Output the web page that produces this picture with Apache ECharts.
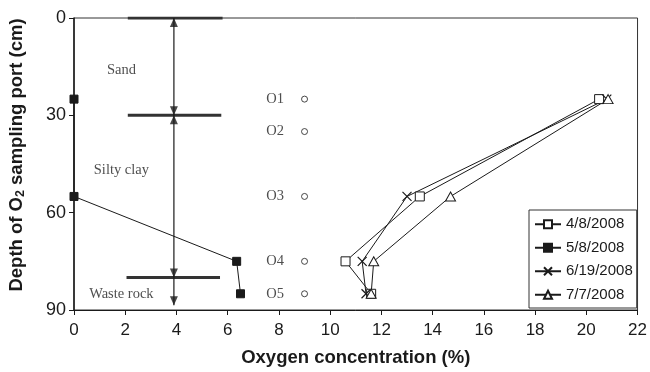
<!DOCTYPE html>
<html>
<head>
<meta charset="utf-8">
<script src="https://cdn.jsdelivr.net/npm/echarts@6/dist/echarts.min.js"></script>
<style>
  html, body { margin: 0; padding: 0; background: #fff; }
  #chart { width: 650px; height: 372px; }
</style>
</head>
<body>
<div id="chart"></div>
<script>
// Sampling port depths (cm) for the measured profiles
const depths = [25, 55, 75, 85];

// Oxygen concentration (%) at each depth, one array per sampling date
const dates = ['4/8/2008', '5/8/2008', '6/19/2008', '7/7/2008'];
const o2Apr08 = [20.5, 13.5, 10.6, 11.6];
const o2May08 = [0, 0, 6.35, 6.5];
const o2Jun19 = [20.8, 13.0, 11.25, 11.4];
const o2Jul07 = [20.85, 14.7, 11.7, 11.6];

// O2 sampling ports
const portNames = ['O1', 'O2', 'O3', 'O4', 'O5'];
const portDepths = [25, 35, 55, 75, 85];
const portX = 9;

// Cover layers: boundaries (cm) and names
const layerBounds = [0, 30, 80];
const layerBarFrom = [2.1, 2.1, 2.05];
const layerBarTo = [5.8, 5.75, 5.7];
const layerNames = ['Sand', 'Silty clay', 'Waste rock'];
const layerNameDepths = [16, 47, 85];
const layerNameX = 1.85;
const arrowX = 3.9;
const arrowBottom = 88.5;

// Axis ticks
const xTicks = { min: 0, max: 22, step: 2 };
const yTicks = { min: 0, max: 90, step: 30 };

const ink = '#1a1a1a';
const sansFont = '"Liberation Sans", Arial, sans-serif';
const serifFont = '"Liberation Serif", "Times New Roman", serif';

const pair = (xs) => xs.map((x, i) => [x, depths[i]]);

const lineBase = {
  type: 'line',
  lineStyle: { color: ink, width: 1 },
  z: 5
};

const series = [
  Object.assign({}, lineBase, {
    name: dates[0], data: pair(o2Apr08),
    symbol: 'rect', symbolSize: 9,
    itemStyle: { color: '#fff', borderColor: ink, borderWidth: 1 }
  }),
  Object.assign({}, lineBase, {
    name: dates[1], data: pair(o2May08),
    symbol: 'rect', symbolSize: 8,
    itemStyle: { color: ink, borderColor: ink, borderWidth: 1 }
  }),
  Object.assign({}, lineBase, {
    name: dates[2], data: pair(o2Jun19),
    symbol: 'path://M0,0L10,10M10,0L0,10', symbolSize: 9,
    itemStyle: { color: ink, borderColor: ink, borderWidth: 1.2 }
  }),
  Object.assign({}, lineBase, {
    name: dates[3], data: pair(o2Jul07),
    symbol: 'triangle', symbolSize: [10, 9],
    itemStyle: { color: '#fff', borderColor: ink, borderWidth: 1 }
  })
];

// Thick bars marking the layer boundaries
layerBounds.forEach((d, i) => {
  series.push({
    type: 'line', silent: true, symbol: 'none', z: 3,
    data: [[layerBarFrom[i], d], [layerBarTo[i], d]],
    lineStyle: { color: '#333', width: 3 }
  });
});

// Vertical thickness line
series.push({
  type: 'line', silent: true, symbol: 'none', z: 3,
  data: [[arrowX, 0], [arrowX, arrowBottom]],
  lineStyle: { color: ink, width: 1.2 }
});

// Arrowheads: up-pointing at layer tops, down-pointing at layer bottoms
const upTips = [0, 30];
const downTips = [30, 80, arrowBottom];
series.push({
  type: 'scatter', silent: true, z: 4,
  symbol: 'path://M5,0L10,10L0,10Z', symbolSize: [8, 9],
  symbolOffset: [0, 4.5],
  itemStyle: { color: ink },
  data: upTips.map(d => [arrowX, d])
});
series.push({
  type: 'scatter', silent: true, z: 4,
  symbol: 'path://M0,0L10,0L5,10Z', symbolSize: [8, 9],
  symbolOffset: [0, -4.5],
  itemStyle: { color: ink },
  data: downTips.map(d => [arrowX, d])
});

// Layer names
series.push({
  type: 'scatter', silent: true, z: 4,
  symbolSize: 0,
  data: layerNames.map((n, i) => ({ value: [layerNameX, layerNameDepths[i]], name: n })),
  label: {
    show: true, position: 'inside', formatter: p => p.name,
    fontFamily: serifFont, fontSize: 14.5, color: '#222'
  }
});

// Sampling ports with their labels
series.push({
  type: 'scatter', silent: true, z: 4,
  symbol: 'circle', symbolSize: 6,
  itemStyle: { color: '#fff', borderColor: ink, borderWidth: 1 },
  data: portNames.map((n, i) => ({ value: [portX, portDepths[i]], name: n })),
  label: {
    show: true, position: 'left', distance: 17, formatter: p => p.name,
    fontFamily: serifFont, fontSize: 14.5, color: '#222'
  }
});

const chart = echarts.init(document.getElementById('chart'), null, { renderer: 'canvas' });
chart.setOption({
  animation: false,
  backgroundColor: '#fff',
  grid: {
    left: 74, right: 11, top: 18, bottom: 61,
    show: true, borderColor: '#333', borderWidth: 1, backgroundColor: 'transparent'
  },
  xAxis: {
    type: 'value', min: xTicks.min, max: xTicks.max, interval: xTicks.step,
    position: 'bottom',
    name: 'Oxygen concentration (%)', nameLocation: 'middle', nameGap: 38,
    nameTextStyle: { fontFamily: sansFont, fontSize: 18.5, fontWeight: 'bold', color: ink },
    axisLine: { onZero: false, lineStyle: { color: ink, width: 1 } },
    axisTick: { show: true, inside: false, length: 5, lineStyle: { color: ink } },
    axisLabel: { fontFamily: sansFont, fontSize: 17, color: ink, margin: 12 },
    splitLine: { show: false }
  },
  yAxis: {
    type: 'value', inverse: true, min: yTicks.min, max: yTicks.max, interval: yTicks.step,
    position: 'left',
    axisLine: { show: true, onZero: false, lineStyle: { color: ink, width: 1.5 } },
    axisTick: { show: true, inside: false, length: 5, lineStyle: { color: ink } },
    axisLabel: { fontFamily: sansFont, fontSize: 18, color: ink, margin: 8 },
    splitLine: { show: false }
  },
  legend: {
    data: dates,
    orient: 'vertical',
    left: 529, top: 210,
    padding: [6, 4, 5, 5],
    itemWidth: 26, itemHeight: 10, itemGap: 7,
    borderColor: '#333', borderWidth: 1, borderRadius: 0,
    backgroundColor: '#fff',
    textStyle: { fontFamily: sansFont, fontSize: 15, color: ink, lineHeight: 16.5 }
  },
  graphic: [{
    type: 'text',
    x: 17, y: 155,
    rotation: Math.PI / 2,
    style: {
      text: '{b|Depth of O}{s|2}{b| sampling port (cm)}',
      align: 'center', verticalAlign: 'middle',
      rich: {
        b: { fontFamily: sansFont, fontSize: 18.5, fontWeight: 'bold', fill: ink },
        s: { fontFamily: sansFont, fontSize: 12.5, fontWeight: 'bold', fill: ink, verticalAlign: 'bottom', padding: [7, 0, 0, 0] }
      }
    }
  }],
  series: series
});
</script>
</body>
</html>
